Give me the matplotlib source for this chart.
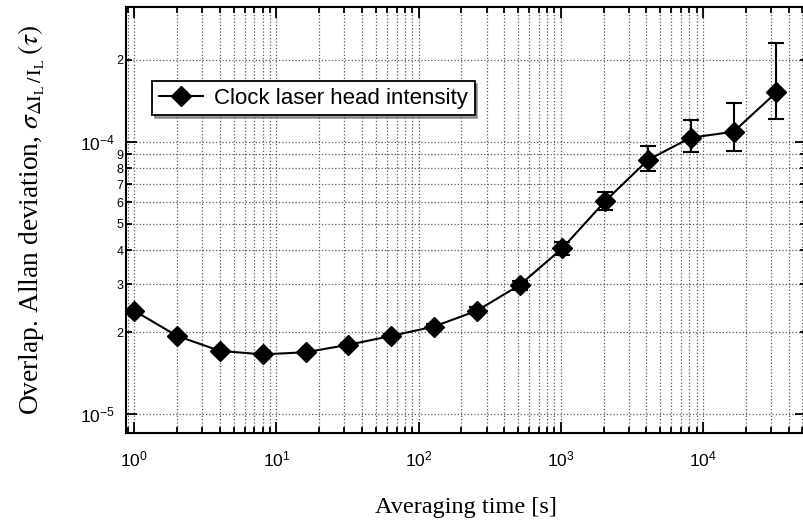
import numpy as np
import matplotlib.pyplot as plt
from matplotlib.ticker import LogLocator, LogFormatterMathtext, FuncFormatter, NullFormatter, FixedLocator

plt.rcParams['font.family'] = ['Liberation Sans', 'DejaVu Sans']
plt.rcParams['mathtext.fontset'] = 'custom'
plt.rcParams['mathtext.rm'] = 'Liberation Sans'
plt.rcParams['mathtext.it'] = 'Liberation Sans:italic'
plt.rcParams['axes.unicode_minus'] = False

# averaging times (s) and overlapping Allan deviation
tau = [1, 2, 4, 8, 16, 32, 64, 128, 256, 512, 1024, 2048, 4096, 8192, 16384, 32768]
adev = [2.40e-5, 1.94e-5, 1.71e-5, 1.66e-5, 1.69e-5, 1.80e-5, 1.94e-5, 2.10e-5,
        2.40e-5, 2.98e-5, 4.07e-5, 6.06e-5, 8.59e-5, 1.037e-4, 1.09e-4, 1.52e-4]
adev_lo = [2.38e-5, 1.93e-5, 1.70e-5, 1.645e-5, 1.67e-5, 1.77e-5, 1.90e-5, 2.05e-5,
           2.33e-5, 2.86e-5, 3.85e-5, 5.65e-5, 7.85e-5, 9.17e-5, 9.29e-5, 1.218e-4]
adev_hi = [2.42e-5, 1.95e-5, 1.72e-5, 1.675e-5, 1.71e-5, 1.83e-5, 1.98e-5, 2.15e-5,
           2.47e-5, 3.10e-5, 4.29e-5, 6.53e-5, 9.67e-5, 1.205e-4, 1.394e-4, 2.30e-4]

# y minor ticks that carry a digit label
y_minor = [2e-5, 3e-5, 4e-5, 5e-5, 6e-5, 7e-5, 8e-5, 9e-5, 2e-4]

tau = np.array(tau, dtype=float)
adev = np.array(adev)
yerr = [adev - np.array(adev_lo), np.array(adev_hi) - adev]

fig = plt.figure(figsize=(8.04, 5.22), dpi=100)
ax = fig.add_axes([126/804, 1 - 433/522, 680/804, 426/522])

ax.errorbar(tau, adev, yerr=yerr, fmt='none', ecolor='black', elinewidth=1.5,
            capsize=6, capthick=1.5, zorder=3)
ax.plot(tau, adev, '-', color='black', lw=1.5, marker='D', ms=10,
        label='Clock laser head intensity', zorder=4)

ax.set_xscale('log')
ax.set_yscale('log')
ax.set_xlim(0.874, 5.3e4)
ax.set_ylim(8.54e-6, 3.13e-4)

ax.xaxis.set_major_locator(LogLocator(base=10))
ax.xaxis.set_minor_locator(LogLocator(base=10, subs=np.arange(2, 10)))
ax.xaxis.set_minor_formatter(NullFormatter())
ax.yaxis.set_major_locator(LogLocator(base=10))
ax.yaxis.set_minor_locator(FixedLocator(y_minor))
ax.yaxis.set_major_formatter(LogFormatterMathtext())


def minor_digit(v, pos):
    e = np.floor(np.log10(v))
    return '%d' % round(v / 10**e)


ax.yaxis.set_minor_formatter(FuncFormatter(minor_digit))

ax.grid(True, which='both', linestyle=':', color='0.35', linewidth=0.9)
ax.set_axisbelow(True)

ax.tick_params(which='both', direction='in', top=True, right=True, width=1.3)
ax.tick_params(which='major', length=8, labelsize=12.5)
ax.tick_params(which='minor', length=4.5)
ax.tick_params(axis='x', which='major', pad=12)
ax.tick_params(axis='y', which='major', pad=8)
ax.tick_params(axis='y', which='minor', labelsize=9, pad=2)
for s in ax.spines.values():
    s.set_linewidth(1.5)

ax.set_xlabel('Averaging time [s]', family='Liberation Serif', fontsize=17.5, labelpad=20)
ax.set_ylabel(r'Overlap. Allan deviation, $\sigma_{\Delta \mathrm{I_L}\,/\,\mathrm{I_L}}\,(\tau)$',
              family='Liberation Serif', fontsize=19.8, math_fontfamily='stix', labelpad=24)

leg = ax.legend(loc='upper left', bbox_to_anchor=(0.038, 0.826), borderaxespad=0,
                fancybox=False, shadow=True, framealpha=1, edgecolor='black',
                fontsize=16, handlelength=2.0, borderpad=0.3, handletextpad=0.5)
leg.get_frame().set_linewidth(1.3)

fig.savefig('out.png', dpi=100)
